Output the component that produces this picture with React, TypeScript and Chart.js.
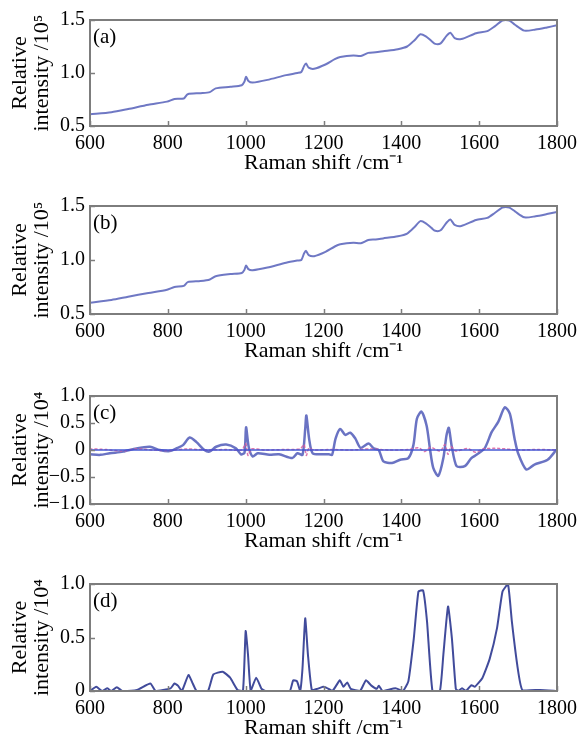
import React, { useEffect, useRef } from "react";
import { Chart, registerables } from "chart.js";

Chart.register(...registerables);

// ---------- DATA ----------
const shiftA = [600, 655, 698, 750, 798, 817, 841, 851, 884, 908, 923, 961, 990, 997, 1001, 1007, 1018, 1056, 1104, 1133, 1143, 1150, 1155, 1162, 1176, 1205, 1229, 1243, 1277, 1296, 1315, 1334, 1353, 1391, 1415, 1434, 1449, 1463, 1478, 1487, 1501, 1516, 1526, 1537, 1554, 1592, 1621, 1640, 1659, 1668, 1678, 1692, 1716, 1745, 1774, 1800];
const intensityA = [0.61, 0.63, 0.66, 0.70, 0.73, 0.755, 0.76, 0.80, 0.81, 0.82, 0.855, 0.87, 0.885, 0.92, 0.965, 0.925, 0.91, 0.935, 0.98, 1.0, 1.01, 1.065, 1.09, 1.05, 1.04, 1.08, 1.13, 1.15, 1.165, 1.16, 1.19, 1.195, 1.205, 1.225, 1.25, 1.31, 1.365, 1.345, 1.30, 1.275, 1.28, 1.35, 1.38, 1.33, 1.32, 1.375, 1.395, 1.44, 1.495, 1.50, 1.495, 1.455, 1.40, 1.41, 1.43, 1.45];

const shiftB = [600, 655, 698, 750, 798, 817, 841, 851, 884, 908, 923, 961, 990, 997, 1001, 1007, 1018, 1056, 1104, 1133, 1143, 1150, 1155, 1162, 1176, 1205, 1229, 1243, 1277, 1296, 1315, 1334, 1353, 1391, 1415, 1434, 1449, 1463, 1478, 1487, 1501, 1516, 1526, 1537, 1554, 1592, 1621, 1640, 1659, 1668, 1678, 1692, 1716, 1745, 1774, 1800];
const intensityB = [0.605, 0.63, 0.66, 0.695, 0.725, 0.75, 0.76, 0.795, 0.805, 0.82, 0.85, 0.87, 0.88, 0.91, 0.95, 0.915, 0.905, 0.93, 0.975, 0.995, 1.0, 1.06, 1.085, 1.045, 1.035, 1.075, 1.125, 1.145, 1.16, 1.155, 1.185, 1.19, 1.2, 1.22, 1.245, 1.305, 1.36, 1.34, 1.295, 1.27, 1.275, 1.345, 1.375, 1.325, 1.315, 1.37, 1.39, 1.435, 1.485, 1.49, 1.485, 1.45, 1.395, 1.405, 1.425, 1.445];

const shiftC = [600, 626, 651, 685, 719, 754, 779, 805, 822, 839, 856, 873, 894, 907, 924, 950, 975, 988, 997, 1001, 1008, 1018, 1031, 1061, 1086, 1120, 1133, 1146, 1153, 1156, 1163, 1172, 1197, 1214, 1222, 1231, 1243, 1256, 1269, 1282, 1295, 1316, 1329, 1342, 1354, 1376, 1397, 1418, 1431, 1440, 1452, 1465, 1474, 1482, 1495, 1508, 1516, 1522, 1529, 1542, 1563, 1580, 1593, 1614, 1632, 1649, 1666, 1679, 1691, 1700, 1721, 1742, 1776, 1798];
const differenceC = [-0.08, -0.09, -0.06, -0.03, 0.03, 0.06, 0.0, -0.02, 0.03, 0.09, 0.23, 0.15, 0.0, -0.03, 0.06, 0.10, 0.03, -0.08, -0.05, 0.42, 0.05, -0.12, -0.06, -0.09, -0.08, -0.15, -0.06, -0.09, 0.39, 0.64, 0.21, -0.06, -0.08, -0.08, -0.09, 0.21, 0.39, 0.28, 0.32, 0.21, 0.04, 0.12, 0.03, 0.0, -0.21, -0.24, -0.18, -0.15, 0.09, 0.58, 0.71, 0.45, 0.0, -0.33, -0.48, -0.15, 0.27, 0.41, 0.09, -0.30, -0.30, -0.15, -0.09, 0.03, 0.33, 0.52, 0.79, 0.67, 0.21, -0.06, -0.36, -0.27, -0.18, 0.0];

const shiftResidual = [600, 640, 680, 720, 760, 800, 850, 900, 950, 990, 1000, 1006, 1015, 1050, 1100, 1140, 1150, 1156, 1162, 1175, 1220, 1270, 1320, 1370, 1420, 1445, 1460, 1475, 1500, 1512, 1520, 1528, 1540, 1570, 1590, 1610, 1650, 1700, 1750, 1800];
const residualC = [0.02, 0.01, -0.02, 0.02, 0.0, -0.01, 0.02, 0.0, 0.01, 0.0, 0.12, -0.1, 0.02, 0.0, 0.01, 0.02, 0.1, -0.1, 0.03, 0.0, 0.01, 0.0, 0.02, 0.0, 0.01, 0.04, -0.03, 0.05, -0.02, 0.1, -0.08, 0.06, -0.02, 0.03, -0.04, 0.02, 0.03, 0.0, 0.01, 0.0];

const shiftZero = [600, 1800];
const zeroLine = [0, 0];

const shiftD = [600, 616, 631, 645, 654, 669, 683, 721, 755, 769, 807, 817, 826, 836, 853, 864, 874, 903, 917, 941, 960, 979, 993, 1000, 1006, 1013, 1027, 1041, 1051, 1113, 1122, 1132, 1140, 1146, 1153, 1160, 1170, 1184, 1199, 1208, 1223, 1242, 1251, 1261, 1270, 1294, 1309, 1323, 1337, 1342, 1352, 1385, 1404, 1418, 1432, 1444, 1456, 1466, 1480, 1499, 1508, 1520, 1530, 1540, 1546, 1556, 1566, 1580, 1589, 1608, 1627, 1646, 1660, 1674, 1684, 1698, 1711, 1757, 1800];
const intensityD = [0.0, 0.04, 0.0, 0.025, 0.0, 0.035, 0.0, 0.01, 0.07, 0.0, 0.025, 0.07, 0.05, 0.0, 0.15, 0.07, 0.0, 0.0, 0.155, 0.18, 0.125, 0.01, 0.0, 0.56, 0.34, 0.0, 0.125, 0.02, 0.0, 0.0, 0.10, 0.09, 0.0, 0.21, 0.68, 0.34, 0.01, 0.02, 0.04, 0.03, 0.0, 0.10, 0.04, 0.08, 0.02, 0.0, 0.10, 0.05, 0.02, 0.05, 0.0, 0.025, 0.0, 0.09, 0.49, 0.93, 0.94, 0.65, 0.0, 0.0, 0.34, 0.79, 0.49, 0.02, 0.0, 0.025, 0.0, 0.055, 0.04, 0.12, 0.30, 0.59, 0.93, 1.0, 0.65, 0.24, 0.01, 0.01, 0.0];

const xTicks = [600, 800, 1000, 1200, 1400, 1600, 1800];
const xTitle = "Raman shift /cm\u207B\u00B9";
const yTitle5 = ["Relative", "intensity /10\u2075"];
const yTitle4 = ["Relative", "intensity /10\u2074"];

// ---------- helpers ----------
const SERIF = '"Liberation Serif", "Times New Roman", serif';

const toPoints = (xs: number[], ys: number[]) => xs.map((x, i) => ({ x, y: ys[i] }));

const fmtDec = (v: number) => Number(v).toFixed(1);
const fmtSigned = (v: number) =>
  Math.abs(v) < 1e-9 ? "0" : (v < 0 ? "\u2212" : "") + Math.abs(v).toFixed(1);

const framePlugin = {
  id: "frameTicks",
  afterDatasetsDraw(chart: any, _args: any, opts: any) {
    const { ctx, chartArea } = chart;
    const { left, top, right, bottom } = chartArea;
    const xs = chart.scales.x;
    const ys = chart.scales.y;
    ctx.save();
    ctx.strokeStyle = "#7d7d7d";
    ctx.lineWidth = 1.5;
    xs.ticks.forEach((t: any) => {
      const px = Math.round(xs.getPixelForValue(t.value)) + 0.5;
      ctx.beginPath();
      ctx.moveTo(px, bottom);
      ctx.lineTo(px, bottom - 5);
      ctx.stroke();
    });
    ys.ticks.forEach((t: any) => {
      const py = Math.round(ys.getPixelForValue(t.value)) + 0.5;
      ctx.beginPath();
      ctx.moveTo(left, py);
      ctx.lineTo(left + 5, py);
      ctx.stroke();
    });
    ctx.lineWidth = 2;
    ctx.strokeRect(left, top, right - left, bottom - top);
    ctx.fillStyle = "#000";
    ctx.font = `21px ${SERIF}`;
    ctx.textBaseline = "middle";
    ctx.textAlign = "left";
    ctx.fillText(opts.label || "", left + 3, top + 17);
    ctx.restore();
  },
};

type PanelProps = {
  areaTop: number;
  areaBottom: number;
  yMin: number;
  yMax: number;
  yTitle: string[];
  yFmt: (v: number) => string;
  label: string;
  datasets: any[];
};

const PAD_TOP = 20;
const X_AXIS_H = 50;
const Y_AXIS_W = 90;
const PAD_RIGHT = 26;

function Panel(p: PanelProps) {
  const ref = useRef<HTMLCanvasElement>(null);
  const h = PAD_TOP + (p.areaBottom - p.areaTop) + X_AXIS_H;
  useEffect(() => {
    if (!ref.current) return;
    const chart = new Chart(ref.current, {
      type: "line",
      data: { datasets: p.datasets },
      options: {
        responsive: false,
        animation: false,
        events: [],
        layout: { autoPadding: false, padding: { top: PAD_TOP, right: PAD_RIGHT, left: 0, bottom: 0 } },
        plugins: {
          legend: { display: false },
          tooltip: { enabled: false },
          frameTicks: { label: p.label },
        } as any,
        elements: { point: { radius: 0 }, line: { tension: 0.25, borderCapStyle: "round", borderJoinStyle: "round" } },
        scales: {
          x: {
            type: "linear",
            min: 600,
            max: 1800,
            afterBuildTicks: (s: any) => {
              s.ticks = xTicks.map((v) => ({ value: v }));
            },
            afterFit: (s: any) => {
              s.height = X_AXIS_H;
            },
            grid: { display: false, drawTicks: false },
            border: { display: false },
            ticks: {
              autoSkip: false,
              maxRotation: 0,
              padding: 8,
              color: "#000",
              font: { family: SERIF, size: 20, lineHeight: 1 },
              callback: (v: any) => String(v),
            },
            title: {
              display: true,
              text: xTitle,
              color: "#000",
              font: { family: SERIF, size: 22, lineHeight: 1 },
              padding: { top: 0, bottom: 2 },
            },
          },
          y: {
            type: "linear",
            min: p.yMin,
            max: p.yMax,
            afterFit: (s: any) => {
              s.width = Y_AXIS_W;
            },
            grid: { display: false, drawTicks: false },
            border: { display: false },
            ticks: {
              stepSize: 0.5,
              padding: 5,
              color: "#000",
              font: { family: SERIF, size: 20, lineHeight: 1 },
              callback: (v: any) => p.yFmt(Number(v)),
            },
            title: {
              display: true,
              text: p.yTitle,
              color: "#000",
              font: { family: SERIF, size: 22, lineHeight: 1 },
              padding: { top: 9, bottom: 0 },
            },
          },
        },
      },
      plugins: [framePlugin],
    } as any);
    return () => chart.destroy();
  }, []);
  return (
    <canvas
      ref={ref}
      width={585}
      height={h}
      style={{ position: "absolute", left: 0, top: p.areaTop - PAD_TOP, width: 585, height: h }}
    />
  );
}

const lineA = "rgba(95,105,190,0.9)";
const lineD = "rgba(55,65,150,0.95)";

export default function App() {
  return (
    <div style={{ position: "absolute", left: 0, top: 0, width: 585, height: 739, background: "#fff" }}>
      <Panel
        areaTop={20}
        areaBottom={126}
        yMin={0.5}
        yMax={1.5}
        yTitle={yTitle5}
        yFmt={fmtDec}
        label="(a)"
        datasets={[{ data: toPoints(shiftA, intensityA), borderColor: lineA, borderWidth: 2 }]}
      />
      <Panel
        areaTop={206}
        areaBottom={314}
        yMin={0.5}
        yMax={1.5}
        yTitle={yTitle5}
        yFmt={fmtDec}
        label="(b)"
        datasets={[{ data: toPoints(shiftB, intensityB), borderColor: lineA, borderWidth: 2 }]}
      />
      <Panel
        areaTop={396}
        areaBottom={504}
        yMin={-1}
        yMax={1}
        yTitle={yTitle4}
        yFmt={fmtSigned}
        label="(c)"
        datasets={[
          { data: toPoints(shiftZero, zeroLine), borderColor: "rgba(60,80,210,0.95)", borderWidth: 1.5, tension: 0 },
          { data: toPoints(shiftResidual, residualC), borderColor: "rgba(215,95,160,0.85)", borderWidth: 1.5, borderDash: [2, 3] },
          { data: toPoints(shiftC, differenceC), borderColor: "rgba(80,90,185,0.85)", borderWidth: 2.5 },
        ]}
      />
      <Panel
        areaTop={584}
        areaBottom={691}
        yMin={0}
        yMax={1}
        yTitle={yTitle4}
        yFmt={fmtSigned}
        label="(d)"
        datasets={[{ data: toPoints(shiftD, intensityD), borderColor: lineD, borderWidth: 2, tension: 0.15 }]}
      />
    </div>
  );
}
